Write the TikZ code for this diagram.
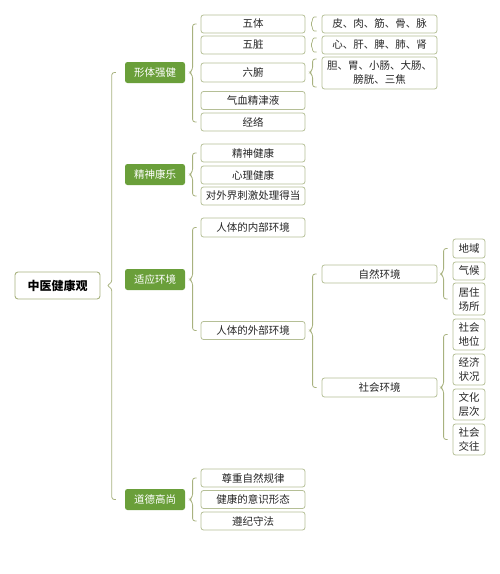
\documentclass[tikz,border=0pt]{standalone}
\usepackage{fontspec}
\setmainfont{Noto Sans CJK SC}
\usetikzlibrary{calc}
\definecolor{gfill}{HTML}{6A9F3A}
\definecolor{bline}{HTML}{B5BF96}
\definecolor{cline}{HTML}{A8B27F}
\tikzset{
  box/.style={draw=bline, line width=0.8pt, fill=white, rounded corners=2.5pt, inner sep=0pt, align=center, font=\fontsize{10.5}{14}\selectfont, text=black!85},
  gbox/.style={fill=gfill, rounded corners=2.5pt, inner sep=0pt, minimum width=60pt, minimum height=21pt, font=\fontsize{10.5}{14}\selectfont, text=white},
  rootbox/.style={draw=cline, line width=0.9pt, fill=white, rounded corners=3pt, inner sep=0pt, minimum width=85pt, minimum height=27pt, font=\fontsize{12}{14}\selectfont\bfseries, text=black},
  lv2/.style={box, minimum width=104pt, minimum height=18pt},
  lv3/.style={box, minimum width=115pt, minimum height=18pt},
  leaf/.style={box, minimum width=32pt, minimum height=18pt},
  conn/.style={draw=cline, line width=0.8pt, rounded corners=2.5pt},
  smallconn/.style={draw=cline, line width=0.7pt, rounded corners=1.5pt}
}
% #1 parent, #2 first child, #3 last child, #4 gap, #5 end extension, #6 point depth
\newcommand\mybrace[7][conn]{%
  \draw[#1] ($(#3.west)+(-#5+4,-#6)$) -- ($(#3.west)+(-#5,-#6)$)
    -- ($(#3.west|-#2.east)+(-#5,-3)$) -- ($(#3.west|-#2.east)+(-#5-#7,0)$)
    -- ($(#3.west|-#2.east)+(-#5,3)$) -- ($(#4.west)+(-#5,#6)$)
    -- ($(#4.west)+(-#5+4,#6)$);}
\begin{document}
\begin{tikzpicture}[x=1pt,y=-1pt]
\useasboundingbox (0,0) rectangle (500,574);
% root
\node[rootbox] (root) at (57.5,285.5) {中医健康观};
% level 1
\node[gbox] (g1) at (155,72.5) {形体强健};
\node[gbox] (g2) at (155,174.5) {精神康乐};
\node[gbox] (g3) at (155,279.5) {适应环境};
\node[gbox] (g4) at (155,499.5) {道德高尚};
% level 2
\node[lv2] (a1) at (253,24) {五体};
\node[lv2] (a2) at (253,45) {五脏};
\node[lv2, minimum height=19pt] (a3) at (253,72.5) {六腑};
\node[lv2] (a4) at (253,100.5) {气血精津液};
\node[lv2] (a5) at (253,122) {经络};
\node[lv2] (b1) at (253,153) {精神健康};
\node[lv2] (b2) at (253,175) {心理健康};
\node[lv2] (b3) at (253,196) {对外界刺激处理得当};
\node[lv2, minimum height=19pt] (c1) at (253,227.5) {人体的内部环境};
\node[lv2] (c2) at (253,330.5) {人体的外部环境};
\node[lv2] (d1) at (253,478) {尊重自然规律};
\node[lv2] (d2) at (253,499.5) {健康的意识形态};
\node[lv2] (d3) at (253,521) {遵纪守法};
% level 3
\node[lv3] (e1) at (379.5,24) {皮、肉、筋、骨、脉};
\node[lv3] (e2) at (379.5,45) {心、肝、脾、肺、肾};
\node[lv3, minimum height=32pt] (e3) at (379.5,73) {胆、胃、小肠、大肠、\\膀胱、三焦};
\node[lv3] (f1) at (379.5,274) {自然环境};
\node[lv3, minimum height=19pt] (f2) at (379.5,387.5) {社会环境};
% leaves
\node[leaf, minimum height=19pt] (h1) at (469,248.5) {地域};
\node[leaf] (h2) at (469,271) {气候};
\node[leaf, minimum height=32pt] (h3) at (469,299) {居住\\场所};
\node[leaf, minimum height=31pt] (k1) at (469,334.5) {社会\\地位};
\node[leaf, minimum height=31pt] (k2) at (469,369.5) {经济\\状况};
\node[leaf, minimum height=31pt] (k3) at (469,404.5) {文化\\层次};
\node[leaf, minimum height=31pt] (k4) at (469,439.5) {社会\\交往};
% braces
\mybrace{root}{g1}{g4}{13}{0}{5}
\mybrace{g1}{a1}{a5}{8}{0}{3}
\mybrace{g2}{b1}{b3}{8}{0}{3}
\mybrace{g3}{c1}{c2}{8}{0}{3}
\mybrace{g4}{d1}{d3}{8}{0}{3}
\mybrace[smallconn]{a1}{e1}{e1}{9}{7}{2}
\mybrace[smallconn]{a2}{e2}{e2}{9}{7}{2}
\mybrace{a3}{e3}{e3}{9}{14}{3}
\mybrace{c2}{f1}{f2}{9}{0}{3}
\mybrace{f1}{h1}{h3}{9}{0}{3}
\mybrace{f2}{k1}{k4}{9}{0}{3}
\end{tikzpicture}
\end{document}
